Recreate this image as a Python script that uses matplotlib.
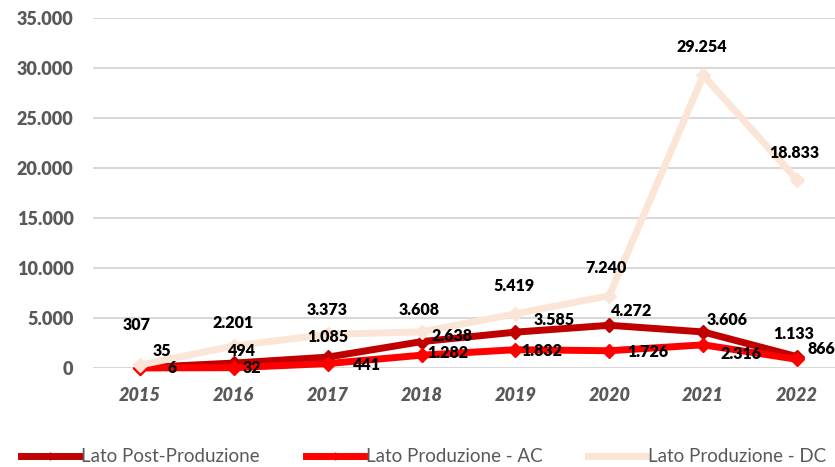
import numpy as np
import matplotlib.pyplot as plt

anni = ["2015", "2016", "2017", "2018", "2019", "2020", "2021", "2022"]
post_prod = [35, 494, 1085, 2638, 3585, 4272, 3606, 1133]
prod_ac = [6, 32, 441, 1282, 1832, 1726, 2316, 866]
prod_dc = [307, 2201, 3373, 3608, 5419, 7240, 29254, 18833]
nomi = ["Lato Post-Produzione", "Lato Produzione - AC", "Lato Produzione - DC"]
colori = ["#C00000", "#FF0000", "#FBE5D6"]

# label offsets in pixels (dx, dy)
off_post = [(22, 17), (8, 12), (0, 20), (30, 6), (39, 12), (22, 14), (24, 12), (-3, 23)]
off_ac = [(32, 0), (18, 0), (39, -1), (26, 2), (26, -1), (38, -1), (38, -9), (24, 10)]
off_dc = [(-3, 40), (-1, 23), (-1, 24), (-2, 22), (-1, 28), (-3, 28), (-1, 28), (-3, 27)]

plt.rcParams['font.family'] = ['Lato', 'DejaVu Sans']

def fmt(v):
    return f"{v:,}".replace(",", ".")

fig = plt.figure(figsize=(8.35, 4.67), dpi=100)
ax = fig.add_axes([93/835, 99/467, 751/835, 350/467])

x = np.arange(len(anni))
serie = [post_prod, prod_ac, prod_dc]
offsets = [off_post, off_ac, off_dc]
linee = []
for vals, col, nome in zip(serie, colori, nomi):
    l, = ax.plot(x, vals, color=col, lw=5, marker='D', ms=7, mec=col, mfc=col,
                 label=nome, solid_joinstyle='miter', clip_on=False, zorder=3)
    linee.append(l)

for vals, offs in zip(serie, offsets):
    for xi, v, (dx, dy) in zip(x, vals, offs):
        ax.annotate(fmt(v), (xi, v), xytext=(dx, dy), textcoords='offset pixels',
                    ha='center', va='center', fontsize=11.5, fontweight='heavy',
                    color='black', zorder=5)

ax.set_xlim(-0.5, len(anni) - 0.5)
ax.set_ylim(0, 35000)
yt = np.arange(0, 35001, 5000)
ax.set_yticks(yt)
ax.set_yticklabels([fmt(v) for v in yt], fontsize=13, fontweight='heavy', color='#595959')
ax.set_xticks(x)
ax.set_xticklabels(anni, fontsize=13, fontweight='heavy', fontstyle='italic', color='#595959')
ax.tick_params(axis='both', length=0)
ax.tick_params(axis='y', pad=14)
ax.tick_params(axis='x', pad=14)
ax.grid(axis='y', color='#D9D9D9', lw=1.5, zorder=0)
for s in ax.spines.values():
    s.set_visible(False)

lx = [21, 306, 588]
for l, px in zip(linee, lx):
    leg = fig.legend(handles=[l], loc='center left', bbox_to_anchor=(px/835, 10/467),
                     frameon=False, fontsize=13.5, handlelength=3.1, handletextpad=0.1,
                     borderpad=0, borderaxespad=0, markerscale=0.5)
    for t in leg.get_texts():
        t.set_color('#595959')

fig.savefig("out.png", dpi=100)
